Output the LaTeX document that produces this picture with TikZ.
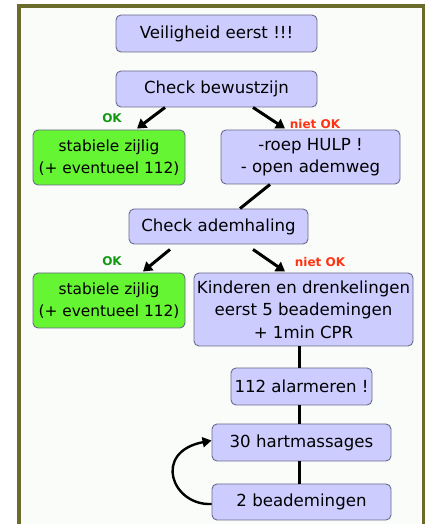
\documentclass[tikz,border=0pt]{standalone}
\usepackage{fontspec}
\setmainfont{DejaVu Sans}
\usetikzlibrary{arrows.meta}
\definecolor{lav}{HTML}{CCCCFF}
\definecolor{lavdraw}{HTML}{6A6A8A}
\definecolor{grn}{HTML}{66F533}
\definecolor{okgreen}{HTML}{119911}
\definecolor{nokred}{HTML}{FF3311}
\definecolor{olive}{HTML}{6B6B2B}
\definecolor{inner}{HTML}{FAFCFA}
\tikzset{
  box/.style={draw=lavdraw, line width=0.9pt, fill=lav, rounded corners=5pt, inner sep=0pt, align=center, font=\fontsize{16.6}{22.5}\selectfont},
  gbox/.style={box, fill=grn, draw=lavdraw, font=\fontsize{15.4}{22}\selectfont},
  arr/.style={line width=3pt, -{Triangle[length=9pt,width=11pt]}},
  conn/.style={line width=3pt},
  oklab/.style={text=okgreen, font=\bfseries\fontsize{12}{12}\selectfont},
  noklab/.style={text=nokred, font=\bfseries\fontsize{12}{12}\selectfont}
}
\begin{document}
\begin{tikzpicture}[x=1pt,y=1pt]
\useasboundingbox (0,0) rectangle (425,524);
\fill[white] (0,0) rectangle (425,524);
\begin{scope}
\clip (0,0) rectangle (425,524);
\draw[olive, line width=4pt, fill=inner] (19,-10) rectangle (423.5,518);
\end{scope}
\node[box, minimum width=201pt, minimum height=37pt] (b1) at (216.5,490.5) {Veiligheid eerst !!!};
\node[box, minimum width=201pt, minimum height=36pt] (b2) at (216.5,435) {Check bewustzijn};
\node[gbox, minimum width=152pt, minimum height=55pt] (b3) at (109,366.5) {stabiele zijlig\\(+ eventueel 112)};
\node[box, minimum width=179pt, minimum height=54pt] (b4) at (310.5,367) {-roep HULP !\\- open ademweg};
\node[box, minimum width=179pt, minimum height=35pt] (b5) at (218.5,297.5) {Check ademhaling};
\node[gbox, minimum width=152pt, minimum height=55pt] (b6) at (109,223.5) {stabiele zijlig\\(+ eventueel 112)};
\node[box, minimum width=219pt, minimum height=73pt] (b7) at (303.5,214.5) {Kinderen en drenkelingen\\eerst 5 beademingen\\+ 1min CPR};
\node[box, minimum width=141pt, minimum height=37pt] (b8) at (301.5,137.5) {112 alarmeren !};
\node[box, minimum width=179pt, minimum height=37pt] (b9) at (301.5,81.5) {30 hartmassages};
\node[box, minimum width=179pt, minimum height=36pt] (b10) at (301.5,22) {2 beademingen};
\node[oklab] (ok1) at (112,406) {OK};
\node[noklab] (nok1) at (315,400) {niet OK};
\node[oklab] (ok2) at (112,263) {OK};
\node[noklab] (nok2) at (320,262) {niet OK};
\draw[arr] ([xshift=-51.5pt]b2.south) -- ([xshift=28pt,yshift=1pt]b3.north);
\draw[arr] ([xshift=36.5pt]b2.south) -- ([xshift=-25.5pt,yshift=1pt]b4.north);
\draw[conn] ([xshift=-40.5pt]b4.south) -- ([xshift=21.5pt]b5.north);
\draw[arr] ([xshift=-48.5pt,yshift=-5pt]b5.south) -- ([xshift=34pt,yshift=1pt]b6.north);
\draw[arr] ([xshift=34.5pt,yshift=-5pt]b5.south) -- ([xshift=-18.5pt,yshift=1pt]b7.north);
\draw[conn] ([xshift=-4.5pt]b7.south) -- ([xshift=-2.5pt]b8.north);
\draw[conn] ([xshift=-2.5pt]b8.south) -- ([xshift=-2.5pt]b9.north);
\draw[conn] ([xshift=-2.5pt]b9.south) -- ([xshift=-2.5pt]b10.north);
\draw[line width=2.4pt, -{Triangle[length=9pt,width=10pt]}] ([yshift=-2pt]b10.west) .. controls (172,18) and (152,72) .. ([yshift=2pt]b9.west);
\end{tikzpicture}
\end{document}
